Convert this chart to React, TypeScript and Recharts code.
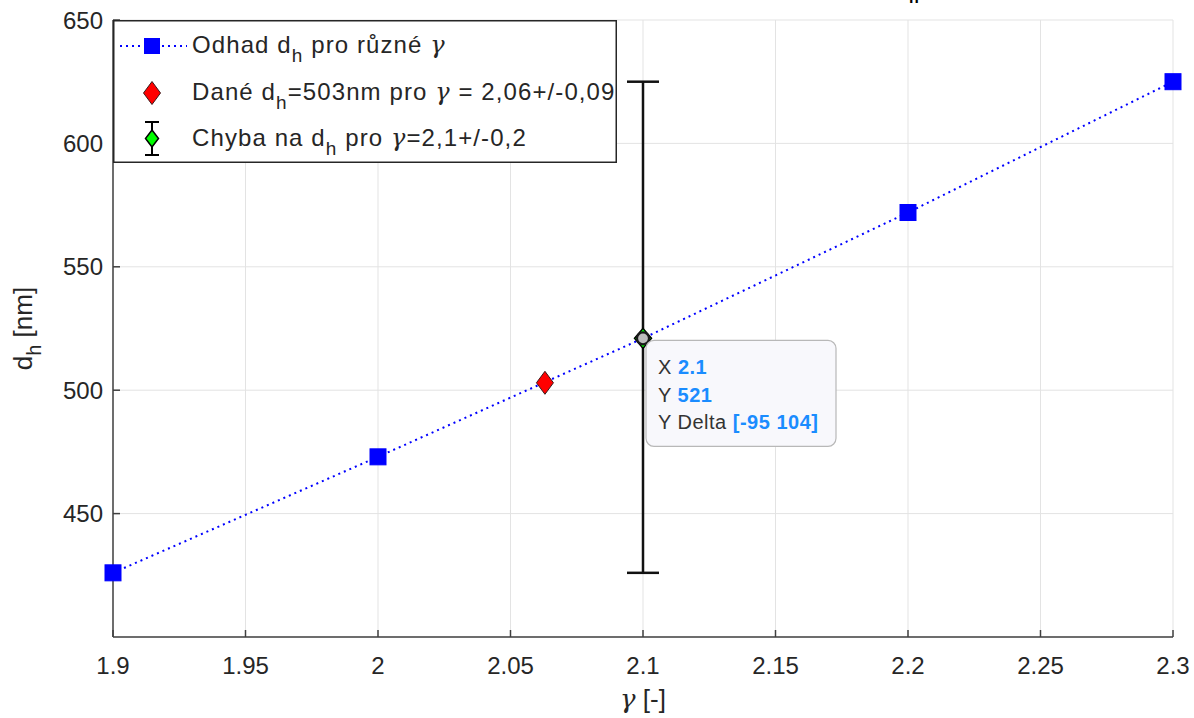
import React from 'react';
import {
  ComposedChart,
  Scatter,
  XAxis,
  YAxis,
  CartesianGrid,
  ErrorBar,
  ReferenceDot,
  Legend,
} from 'recharts';

// ---- data ----
const gammaValues = [1.9, 2.0, 2.2, 2.3];
const dhValues = [426, 473, 572, 625];
const givenGamma = [2.063];
const givenDh = [503];
const errGamma = [2.1];
const errDh = [521];
const errLow = [95];
const errHigh = [104];
const xTicks = [1.9, 1.95, 2, 2.05, 2.1, 2.15, 2.2, 2.25, 2.3];
const yTicks = [450, 500, 550, 600, 650];
const xDomain = [1.9, 2.3];
const yDomain = [400, 650];

// line through all estimates (the 2.1 estimate coincides with the error point)
const estimateData = [
  ...gammaValues.map((g, i) => ({ x: g, y: dhValues[i] })),
  ...errGamma.map((g, i) => ({ x: g, y: errDh[i], hidden: true })),
].sort((a, b) => a.x - b.x);
const givenData = givenGamma.map((g, i) => ({ x: g, y: givenDh[i] }));
const errorData = errGamma.map((g, i) => ({ x: g, y: errDh[i], err: [errLow[i], errHigh[i]] }));

const FONT = "'Liberation Sans', Arial, Helvetica, sans-serif";
const GFONT = "'DejaVu Serif', 'Liberation Serif', serif";
const AXIS = '#404040';
const TXT = '#262626';

const Square = (props: any) => {
  const { cx, cy, payload } = props;
  if (cx == null || cy == null || (payload && payload.hidden)) return null;
  return <rect x={cx - 8} y={cy - 8} width={16} height={16} fill="#0000ff" stroke="#0000ff" strokeWidth={1} />;
};

const RedDiamond = (props: any) => {
  const { cx, cy } = props;
  if (cx == null || cy == null) return null;
  return (
    <polygon
      points={`${cx},${cy - 11.5} ${cx + 8.5},${cy} ${cx},${cy + 11.5} ${cx - 8.5},${cy}`}
      fill="#ff0000"
      stroke="#3a1a1a"
      strokeWidth={1}
    />
  );
};

const GreenDiamond = (props: any) => {
  const { cx, cy } = props;
  if (cx == null || cy == null) return null;
  return (
    <polygon
      points={`${cx},${cy - 10} ${cx + 8.5},${cy} ${cx},${cy + 10} ${cx - 8.5},${cy}`}
      fill="#00ff00"
      stroke="#000"
      strokeWidth={1.5}
    />
  );
};

const DataTip = (props: any) => {
  const { cx, cy } = props;
  if (cx == null || cy == null) return null;
  const val = { fill: '#1a8cff', fontWeight: 'bold' as const };
  const ts = { fontSize: 20, letterSpacing: 0.5, fill: '#333' };
  return (
    <g fontFamily={FONT}>
      <circle cx={cx} cy={cy} r={6} fill="#bdbdbd" stroke="#1a1a1a" strokeWidth={2.2} />
      <rect x={cx + 3} y={cy + 2} width={190} height={106} rx={8} ry={8} fill="#f8f8fc" stroke="#b8b8b8" strokeWidth={1.2} />
      <text x={cx + 15} y={cy + 36} {...ts}>
        X <tspan {...val}>{errGamma[0]}</tspan>
      </text>
      <text x={cx + 15} y={cy + 64} {...ts}>
        Y <tspan {...val}>{errDh[0]}</tspan>
      </text>
      <text x={cx + 15} y={cy + 91} {...ts}>
        Y Delta <tspan {...val}>{`[-${errLow[0]} ${errHigh[0]}]`}</tspan>
      </text>
    </g>
  );
};

const G = () => <tspan fontFamily={GFONT} fontStyle="italic">γ</tspan>;

const LT = { fontSize: 24, letterSpacing: 1.1, fill: TXT, fontFamily: FONT };

const LegendBox = () => (
  <svg width={504} height={143} style={{ display: 'block' }}>
    <rect x={0.75} y={0.75} width={502.5} height={141.5} fill="#fff" stroke="#262626" strokeWidth={1.5} />
    {/* row 1 */}
    <line x1={7} y1={26} x2={74} y2={26} stroke="#0000ff" strokeWidth={2} strokeDasharray="2 4" />
    <rect x={31} y={18} width={16} height={16} fill="#0000ff" />
    <text x={79} y={33} {...LT}>
      <tspan>Odhad d</tspan>
      <tspan dy={9} fontSize={19}>h</tspan>
      <tspan dy={-9}> pro různé </tspan>
      <G />
    </text>
    {/* row 2 */}
    <polygon points="39,61.5 47.5,73 39,84.5 30.5,73" fill="#ff0000" stroke="#3a1a1a" strokeWidth={1} />
    <text x={79} y={80} {...LT}>
      <tspan>Dané d</tspan>
      <tspan dy={9} fontSize={19}>h</tspan>
      <tspan dy={-9}>=503nm pro </tspan>
      <G />
      <tspan> = 2,06+/-0,09</tspan>
    </text>
    {/* row 3 */}
    <line x1={39} y1={102} x2={39} y2={135} stroke="#000" strokeWidth={2} />
    <line x1={32} y1={102} x2={46} y2={102} stroke="#000" strokeWidth={2} />
    <line x1={32} y1={135} x2={46} y2={135} stroke="#000" strokeWidth={2} />
    <polygon points="39,110 45.5,118.5 39,127 32.5,118.5" fill="#00ff00" stroke="#000" strokeWidth={1.5} />
    <text x={79} y={126} {...LT}>
      <tspan>Chyba na d</tspan>
      <tspan dy={9} fontSize={19}>h</tspan>
      <tspan dy={-9}> pro </tspan>
      <G />
      <tspan>=2,1+/-0,2</tspan>
    </text>
  </svg>
);

const XLabel = (props: any) => {
  const vb = props.viewBox || {};
  const cx = vb.x + vb.width / 2;
  return (
    <text x={cx} y={vb.y + 71} textAnchor="middle" fontSize={26} fill={TXT} fontFamily={FONT}>
      <G /> [-]
    </text>
  );
};

const YLabel = (props: any) => {
  const vb = props.viewBox || {};
  const cy = vb.y + vb.height / 2;
  const x = 32;
  return (
    <text x={x} y={cy} transform={`rotate(-90 ${x} ${cy})`} textAnchor="middle" fontSize={26} fill={TXT} fontFamily={FONT}>
      <tspan>d</tspan>
      <tspan dy={9} fontSize={20}>h</tspan>
      <tspan dy={-9}> [nm]</tspan>
    </text>
  );
};

export default function App() {
  return (
    <div style={{ position: 'absolute', left: 0, top: 0, width: 1194, height: 718, background: '#fff', overflow: 'hidden' }}>
      <svg width={1194} height={10} style={{ position: 'absolute', left: 0, top: 0 }}>
        <text x={914} y={3} textAnchor="middle" fontSize={16} fontWeight="bold" fill="#000" fontFamily={FONT}>h</text>
      </svg>
      <ComposedChart
        width={1194}
        height={718}
        margin={{ top: 20, right: 21, left: 0, bottom: 0 }}
        style={{ fontFamily: FONT }}
      >
        <CartesianGrid stroke="#e3e3e3" strokeWidth={1} />
        <XAxis
          xAxisId={0}
          type="number"
          dataKey="x"
          domain={xDomain}
          ticks={xTicks}
          interval={0}
          height={81}
          tickSize={-7}
          tickMargin={27}
          axisLine={{ stroke: AXIS, strokeWidth: 1.5 }}
          tickLine={{ stroke: AXIS, strokeWidth: 1.5 }}
          tick={{ fontSize: 24, fill: TXT, fontFamily: FONT }}
          label={<XLabel />}
        />
        <XAxis
          xAxisId="top"
          orientation="top"
          type="number"
          dataKey="x"
          domain={xDomain}
          ticks={xTicks}
          interval={0}
          height={0}
          tickSize={-7}
          tick={false}
          axisLine={{ stroke: AXIS, strokeWidth: 1.5 }}
          tickLine={{ stroke: AXIS, strokeWidth: 1.5 }}
        />
        <YAxis
          yAxisId={0}
          type="number"
          dataKey="y"
          domain={yDomain}
          ticks={yTicks}
          interval={0}
          width={113}
          tickSize={-7}
          tickMargin={17}
          axisLine={{ stroke: AXIS, strokeWidth: 1.5 }}
          tickLine={{ stroke: AXIS, strokeWidth: 1.5 }}
          tick={{ fontSize: 24, fill: TXT, fontFamily: FONT }}
          label={<YLabel />}
        />
        <YAxis
          yAxisId="right"
          orientation="right"
          type="number"
          dataKey="y"
          domain={yDomain}
          ticks={yTicks}
          interval={0}
          width={0}
          tickSize={-7}
          tick={false}
          axisLine={{ stroke: AXIS, strokeWidth: 1.5 }}
          tickLine={{ stroke: AXIS, strokeWidth: 1.5 }}
        />
        <Scatter
          data={estimateData}
          dataKey="y"
          isAnimationActive={false}
          line={{ stroke: '#0000ff', strokeWidth: 2, strokeDasharray: '2 4' }}
          lineType="joint"
          shape={<Square />}
        />
        <Scatter data={givenData} dataKey="y" isAnimationActive={false} shape={<RedDiamond />} />
        <Scatter data={errorData} dataKey="y" isAnimationActive={false} shape={<GreenDiamond />}>
          <ErrorBar dataKey="err" direction="y" width={16} stroke="#111" strokeWidth={2.5} isAnimationActive={false} />
        </Scatter>
        <ReferenceDot x={errGamma[0]} y={errDh[0]} r={6} shape={<DataTip />} ifOverflow="visible" />
        <Legend
          layout="vertical"
          align="center"
          verticalAlign="middle"
          content={<LegendBox />}
          wrapperStyle={{ left: 113, top: 20, width: 504, height: 143 }}
        />
      </ComposedChart>
    </div>
  );
}
